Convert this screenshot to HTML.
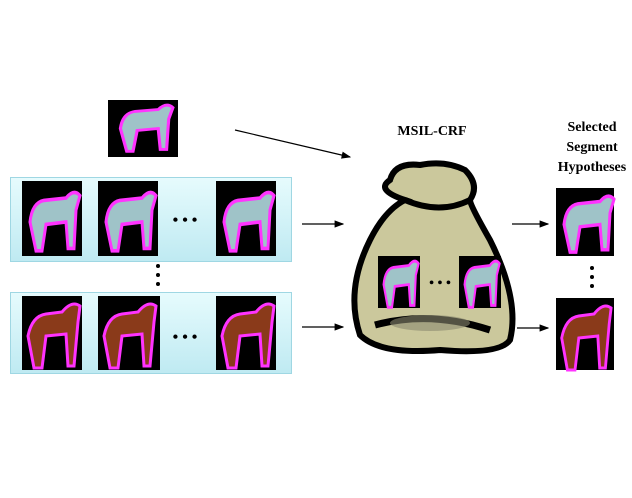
<!DOCTYPE html>
<html><head><style>
body{margin:0;width:632px;height:498px;background:#fff;overflow:hidden;position:relative;font-family:"Liberation Serif",serif}
.img{position:absolute;background:#000;box-sizing:border-box}
.panel{position:absolute;background:linear-gradient(#e6fbfd,#bfeaf2);border:1px solid #9fd7e3}
.t{position:absolute;font-weight:bold;font-size:14px;text-align:center}
</style></head><body>
<svg width="632" height="498" style="position:absolute;left:0;top:0">
<defs>
<marker id="ah" markerWidth="8" markerHeight="8" refX="7" refY="4" orient="auto"><path d="M0,1 L8,4 L0,7 z" fill="#000"/></marker>
<g id="horseW"><path d="M8,30 Q10,14 22,12 L44,10 Q52,2 58,8 L54,20 L52,52 L46,52 L44,30 L24,32 L20,54 L14,54 Z" fill="#9fc3c8" stroke="#ff33ff" stroke-width="3"/></g>
<g id="horseB"><path d="M6,40 Q10,20 24,18 L40,16 Q50,4 58,10 L56,26 L52,70 L46,70 L44,38 L24,40 L20,72 L12,72 Z" fill="#8a3a1a" stroke="#ff33ff" stroke-width="3"/></g>
</defs>
<!-- bag -->
<g>
<path d="M420,165 Q395,162 390,180 Q375,190 405,200 Q385,210 370,240 Q345,290 360,335 Q380,355 440,350 Q500,355 510,340 Q520,300 490,240 Q470,205 470,200 Q480,185 465,170 Q445,160 420,165 Z" fill="#cbc89c" stroke="#000" stroke-width="6"/>
<path d="M405,200 Q440,215 470,200" fill="none" stroke="#000" stroke-width="6"/>
<path d="M375,325 Q430,310 490,330" fill="none" stroke="#000" stroke-width="7"/>
<ellipse cx="430" cy="323" rx="40" ry="8" fill="#8a8870" opacity="0.6"/>
</g>
<g><rect x="378" y="256" width="42" height="52" fill="#000"/><use href="#horseW" transform="translate(378,256) scale(0.7,0.95)"/></g>
<g><rect x="459" y="256" width="42" height="52" fill="#000"/><use href="#horseW" transform="translate(459,256) scale(0.7,0.95)"/></g>
<text x="440" y="287" font-size="14" font-weight="bold" text-anchor="middle">• • •</text>
<!-- arrows -->
<g stroke="#000" stroke-width="1.2" marker-end="url(#ah)">
<line x1="235" y1="130" x2="350" y2="157"/>
<line x1="302" y1="224" x2="343" y2="224"/>
<line x1="302" y1="327" x2="343" y2="327"/>
<line x1="512" y1="224" x2="548" y2="224"/>
<line x1="517" y1="328" x2="548" y2="328"/>
</g>
</svg>
<div class="panel" style="left:10px;top:177px;width:280px;height:83px"></div>
<div class="panel" style="left:10px;top:292px;width:280px;height:80px"></div>
<svg width="632" height="498" style="position:absolute;left:0;top:0">
<g><rect x="108" y="100" width="70" height="57" fill="#000"/><use href="#horseW" transform="translate(112,100) scale(1.05,0.95)"/></g>
<g><rect x="22" y="181" width="60" height="75" fill="#000"/><use href="#horseW" transform="translate(22,186) scale(1,1.2)"/></g>
<g><rect x="98" y="181" width="60" height="75" fill="#000"/><use href="#horseW" transform="translate(98,186) scale(1,1.2)"/></g>
<g><rect x="216" y="181" width="60" height="75" fill="#000"/><use href="#horseW" transform="translate(216,186) scale(1,1.2)"/></g>
<g><rect x="22" y="296" width="60" height="74" fill="#000"/><use href="#horseB" transform="translate(22,296)"/></g>
<g><rect x="98" y="296" width="62" height="74" fill="#000"/><use href="#horseB" transform="translate(98,296)"/></g>
<g><rect x="216" y="296" width="60" height="74" fill="#000"/><use href="#horseB" transform="translate(216,296)"/></g>
<g><rect x="556" y="188" width="58" height="68" fill="#000"/><use href="#horseW" transform="translate(556,190) scale(1,1.15)"/></g>
<g><rect x="556" y="298" width="58" height="72" fill="#000"/><use href="#horseB" transform="translate(556,298) scale(0.95,1)"/></g>
<text x="185" y="225" font-size="16" font-weight="bold" text-anchor="middle">• • •</text>
<text x="185" y="342" font-size="16" font-weight="bold" text-anchor="middle">• • •</text>
<g fill="#000"><circle cx="158" cy="266" r="2"/><circle cx="158" cy="275" r="2"/><circle cx="158" cy="284" r="2"/>
<circle cx="592" cy="268" r="2"/><circle cx="592" cy="277" r="2"/><circle cx="592" cy="286" r="2"/></g>
</svg>
<div class="t" style="left:372px;top:124px;width:120px">MSIL-CRF</div>
<div class="t" style="left:542px;top:118px;width:100px;line-height:20px">Selected<br>Segment<br>Hypotheses</div>
</body></html>
